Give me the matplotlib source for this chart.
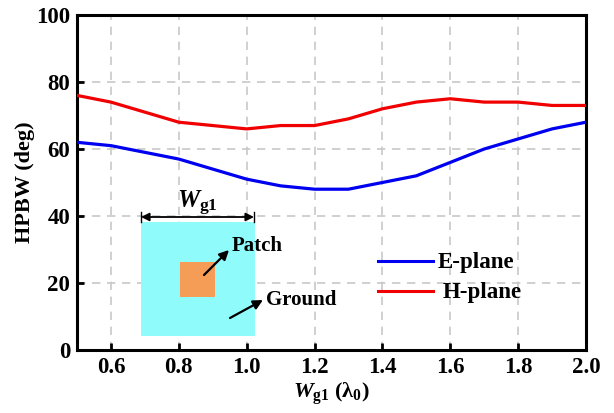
import matplotlib
matplotlib.use("Agg")
import matplotlib.pyplot as plt
from matplotlib.patches import Rectangle, FancyArrowPatch
from matplotlib.transforms import Affine2D, IdentityTransform

plt.rcParams['font.family'] = 'Liberation Serif'
plt.rcParams['font.weight'] = 'bold'
plt.rcParams['mathtext.fontset'] = 'custom'
plt.rcParams['mathtext.rm'] = 'Liberation Serif:bold'
plt.rcParams['mathtext.it'] = 'Liberation Serif:italic:bold'
plt.rcParams['mathtext.bf'] = 'Liberation Serif:bold'

wg1 = [0.5, 0.6, 0.7, 0.8, 0.9, 1.0, 1.1, 1.2, 1.3, 1.4, 1.5, 1.6, 1.7, 1.8, 1.9, 2.0]
e_plane = [62, 61, 59, 57, 54, 51, 49, 48, 48, 50, 52, 56, 60, 63, 66, 68]
h_plane = [76, 74, 71, 68, 67, 66, 67, 67, 69, 72, 74, 75, 74, 74, 73, 73]
x_ticks = [0.6, 0.8, 1.0, 1.2, 1.4, 1.6, 1.8, 2.0]
y_ticks = [0, 20, 40, 60, 80, 100]

fig = plt.figure(figsize=(6.14, 4.13), dpi=100)
ax = fig.add_axes([77/614, 1-350/413, (586-77)/614, (350-15)/413])
ax.set_zorder(1)
px = Affine2D().scale(1/614, -1/413).translate(0, 1) + fig.transFigure

ax.grid(True, color='#c8c8c8', linestyle=(0, (5, 4)), linewidth=1.2)
ax.set_axisbelow(True)
ax.plot(wg1, e_plane, color='#0000f0', linewidth=2.3, zorder=3)
ax.plot(wg1, h_plane, color='#f00000', linewidth=2.3, zorder=3)
ax.set_xlim(0.5, 2.0)
ax.set_ylim(0, 100)
ax.set_xticks(x_ticks)
ax.set_yticks(y_ticks)
ax.set_xticklabels([f'{v:.1f}' for v in x_ticks])
ax.tick_params(direction='in', length=5, width=2, labelsize=16.5, pad=5)
for s in ax.spines.values():
    s.set_linewidth(2.2)
ax.set_xlabel(r'$\mathit{W}_{\mathbf{g1}}$ ($\mathbf{\lambda}_{\mathbf{0}}$)', fontsize=16, labelpad=2, fontweight='bold')
ax.set_ylabel('HPBW (deg)', fontsize=16, fontweight='bold', labelpad=1)

# inset sketch
fig.add_artist(Rectangle((141, 222), 114, 114, transform=px, facecolor='#8ffbfb', edgecolor='none', zorder=2))
fig.add_artist(Rectangle((180, 262), 35, 35, transform=px, facecolor='#f59c56', edgecolor='none', zorder=3))
def arrow(x0, y0, x1, y1, style='-|>', lw=1.6, ms=14):
    a = FancyArrowPatch(px.transform((x0, y0)), px.transform((x1, y1)), arrowstyle=style,
                        color='black', lw=lw, mutation_scale=ms, shrinkA=0, shrinkB=0, zorder=5)
    fig.add_artist(a)
    a.set_transform(IdentityTransform())
arrow(204, 275, 229, 250)
arrow(230, 318, 263, 300)
arrow(141, 217, 254, 217, style='<|-|>', lw=1.3, ms=12)
for x in (141, 254):
    fig.add_artist(plt.Line2D([x, x], [212, 222], transform=px, color='black', lw=1, zorder=5))
fig.text(177, 208, r'$\mathit{W}_{\mathbf{g1}}$', transform=px, fontsize=18, ha='left', va='baseline', zorder=6)
fig.text(232, 251, 'Patch', transform=px, fontsize=15, ha='left', va='baseline', zorder=6)
fig.text(266, 305, 'Ground', transform=px, fontsize=15, ha='left', va='baseline', zorder=6)

# legend
fig.add_artist(plt.Line2D([378, 433], [261, 261], transform=px, color='#0000f0', lw=2.2, zorder=6))
fig.add_artist(plt.Line2D([378, 433], [291, 291], transform=px, color='#f00000', lw=2.2, zorder=6))
fig.text(438, 268, 'E-plane', transform=px, fontsize=16.5, ha='left', va='baseline', zorder=6)
fig.text(443, 298, 'H-plane', transform=px, fontsize=16.5, ha='left', va='baseline', zorder=6)

fig.savefig('out.png', dpi=100)
